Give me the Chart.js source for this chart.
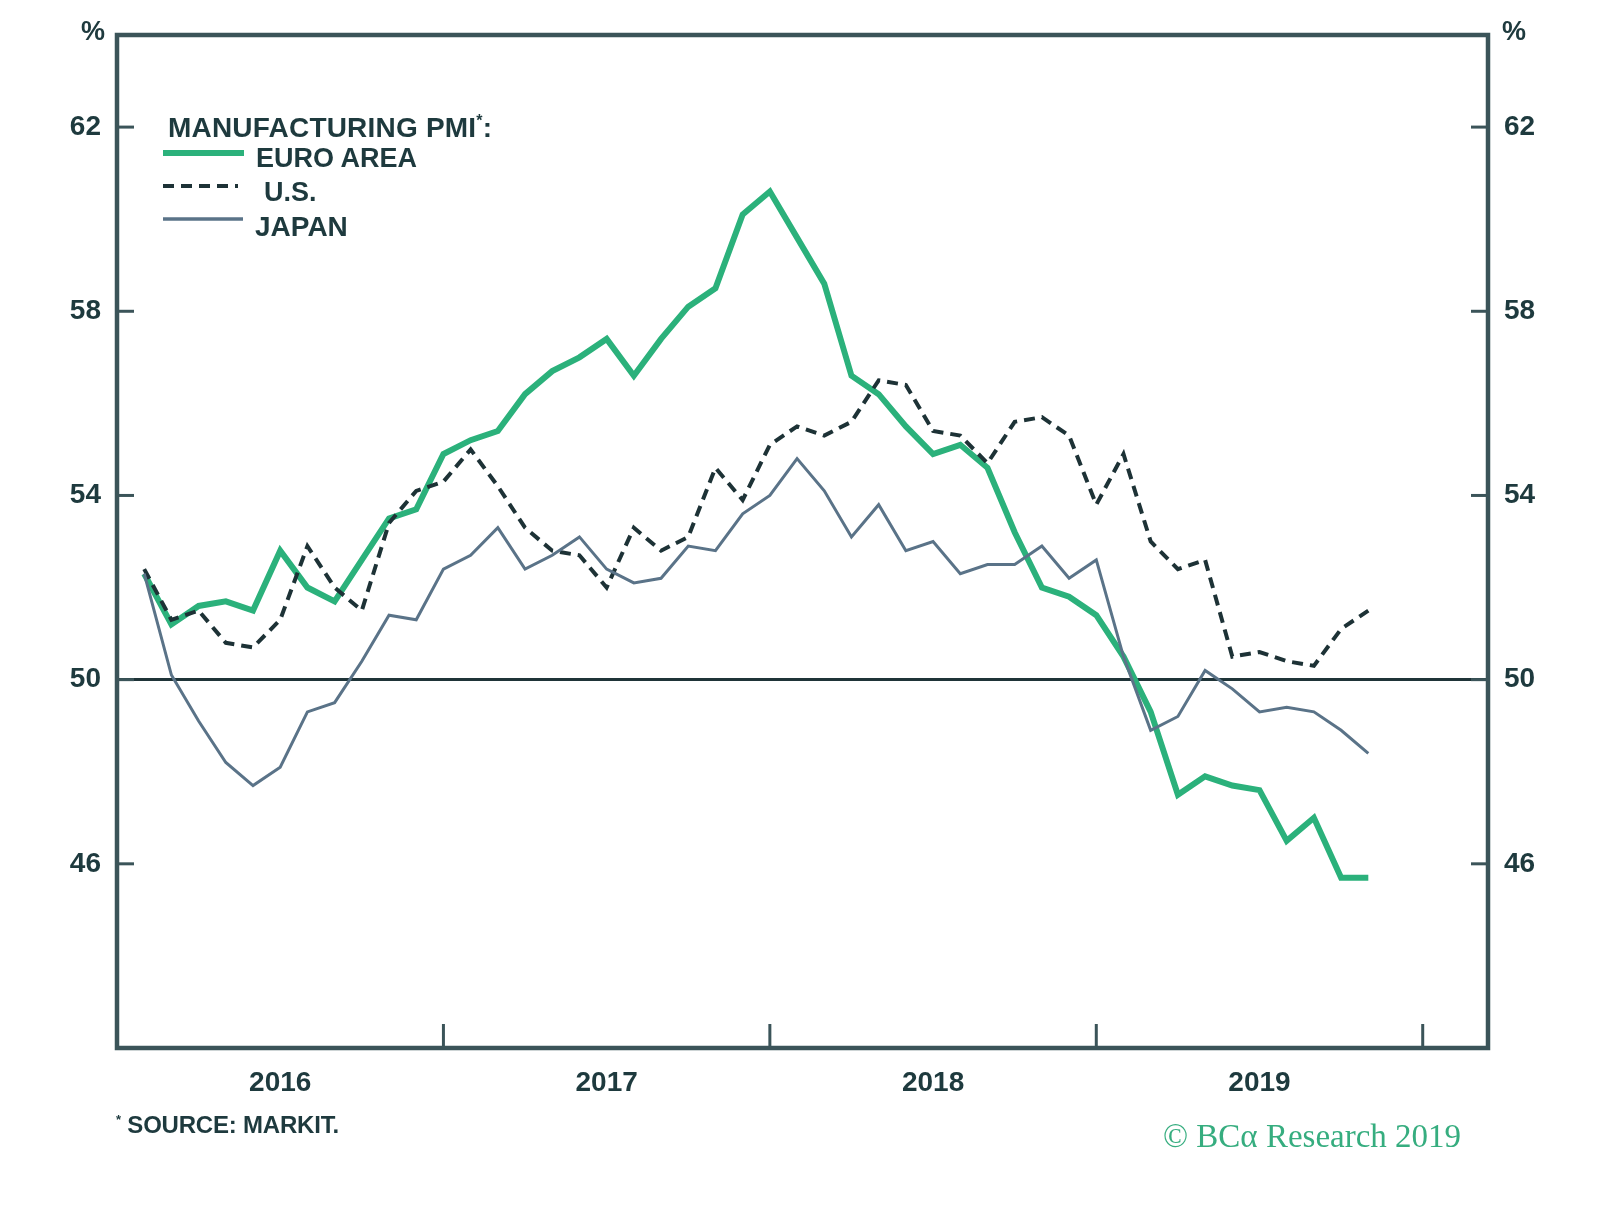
<!DOCTYPE html>
<html>
<head>
<meta charset="utf-8">
<script src="https://cdn.jsdelivr.net/npm/chart.js@4.4.1/dist/chart.umd.min.js"></script>
<style>
  html, body { margin: 0; padding: 0; background: #ffffff; }
  #wrap { position: relative; width: 1600px; height: 1208px; overflow: hidden; background: #fff; }
  #c { position: absolute; left: 0; top: 0; }
  .t { position: absolute; font-family: "Liberation Sans", Arial, sans-serif; font-weight: bold; color: #1e3a3e; white-space: nowrap; line-height: 1; }
  .leg { font-size: 27px; }
  .copy { position: absolute; font-family: "Liberation Serif", "DejaVu Serif", serif; color: #36ad7f; font-size: 33px; white-space: nowrap; line-height: 1; }
  svg.ls { position: absolute; overflow: visible; }
</style>
</head>
<body>
<div id="wrap">
  <canvas id="c" width="1600" height="1208"></canvas>
  <div class="t" style="left:81px; top:18px; font-size:27px; letter-spacing:-1px;">%</div>
  <div class="t" style="left:1502px; top:18px; font-size:27px; letter-spacing:-1px;">%</div>

  <div class="t leg" style="left:168px; top:113px; font-size:28px; letter-spacing:0.2px;">MANUFACTURING PMI<sup style="font-size:16px; vertical-align: 11px;">*</sup>:</div>
  <div class="t leg" style="left:256px; top:145px;">EURO AREA</div>
  <div class="t leg" style="left:264px; top:179px;">U.S.</div>
  <div class="t leg" style="left:255px; top:213px; font-size:28px;">JAPAN</div>

  <svg class="ls" style="left:0; top:0;" width="1" height="1">
    <line x1="163" y1="153" x2="244" y2="153" stroke="#2bb17b" stroke-width="6"/>
    <line x1="163" y1="186" x2="238" y2="186" stroke="#1d3236" stroke-width="4" stroke-dasharray="11 7"/>
    <line x1="163" y1="219" x2="243" y2="219" stroke="#5a7388" stroke-width="3.5"/>
  </svg>

  <div class="t" style="left:116px; top:1113px; font-size:24px; letter-spacing:-0.2px;"><sup style="font-size:13px; vertical-align: 9px;">*</sup> SOURCE: MARKIT.</div>
  <div class="copy" style="left:1163px; top:1120px;">© BCα Research 2019</div>
</div>
<script>
// ---- data ----
const months = [
  '2016-01','2016-02','2016-03','2016-04','2016-05','2016-06','2016-07','2016-08','2016-09','2016-10','2016-11','2016-12',
  '2017-01','2017-02','2017-03','2017-04','2017-05','2017-06','2017-07','2017-08','2017-09','2017-10','2017-11','2017-12',
  '2018-01','2018-02','2018-03','2018-04','2018-05','2018-06','2018-07','2018-08','2018-09','2018-10','2018-11','2018-12',
  '2019-01','2019-02','2019-03','2019-04','2019-05','2019-06','2019-07','2019-08','2019-09','2019-10'
];
const euroArea = [
  52.3,51.2,51.6,51.7,51.5,52.8,52.0,51.7,52.6,53.5,53.7,54.9,
  55.2,55.4,56.2,56.7,57.0,57.4,56.6,57.4,58.1,58.5,60.1,60.6,
  59.6,58.6,56.6,56.2,55.5,54.9,55.1,54.6,53.2,52.0,51.8,51.4,
  50.5,49.3,47.5,47.9,47.7,47.6,46.5,47.0,45.7,45.7
];
const us = [
  52.4,51.3,51.5,50.8,50.7,51.3,52.9,52.0,51.5,53.4,54.1,54.3,
  55.0,54.2,53.3,52.8,52.7,52.0,53.3,52.8,53.1,54.6,53.9,55.1,
  55.5,55.3,55.6,56.5,56.4,55.4,55.3,54.7,55.6,55.7,55.3,53.8,
  54.9,53.0,52.4,52.6,50.5,50.6,50.4,50.3,51.1,51.5
];
const japan = [
  52.3,50.1,49.1,48.2,47.7,48.1,49.3,49.5,50.4,51.4,51.3,52.4,
  52.7,53.3,52.4,52.7,53.1,52.4,52.1,52.2,52.9,52.8,53.6,54.0,
  54.8,54.1,53.1,53.8,52.8,53.0,52.3,52.5,52.5,52.9,52.2,52.6,
  50.5,48.9,49.2,50.2,49.8,49.3,49.4,49.3,48.9,48.4
];
const yearLabels = ['2016','2017','2018','2019'];
const yTicks = [46, 50, 54, 58, 62];
const yMin = 42, yMax = 64;
const baseYear = 2016;
const xMaxMonths = 50.4;   // axis ends ~mid-March 2020

// months since Jan 1 of baseYear, plotted at month end
function monthPos(s) {
  const [y, m] = s.split('-').map(Number);
  return (y - baseYear) * 12 + m;
}
function series(vals) { return vals.map((v, i) => ({ x: monthPos(months[i]), y: v })); }
const yearMid = yearLabels.map(y => (Number(y) - baseYear) * 12 + 6);
const yearBounds = yearLabels.map(y => (Number(y) - baseYear + 1) * 12);

const INK = '#1e3a3e';
const FRAME = '#3b5459';
const tickFont = { family: '"Liberation Sans", Arial, sans-serif', size: 28, weight: 'bold' };

const framePlugin = {
  id: 'frame',
  afterDraw(chart) {
    const { ctx, chartArea: a, scales } = chart;
    ctx.save();
    ctx.strokeStyle = FRAME;
    ctx.lineWidth = 3;
    yTicks.forEach(v => {
      const py = scales.y.getPixelForValue(v);
      ctx.beginPath(); ctx.moveTo(a.left, py); ctx.lineTo(a.left + 17, py); ctx.stroke();
      const pr = scales.y2.getPixelForValue(v);
      ctx.beginPath(); ctx.moveTo(a.right, pr); ctx.lineTo(a.right - 17, pr); ctx.stroke();
    });
    yearBounds.forEach(v => {
      const px = scales.x.getPixelForValue(v);
      ctx.beginPath(); ctx.moveTo(px, a.bottom); ctx.lineTo(px, a.bottom - 24); ctx.stroke();
    });
    ctx.lineWidth = 4.5;
    ctx.strokeRect(a.left, a.top, a.right - a.left, a.bottom - a.top);
    ctx.restore();
  }
};

new Chart(document.getElementById('c'), {
  type: 'line',
  data: {
    datasets: [
      { label: 'JAPAN', data: series(japan), borderColor: '#5a7388', borderWidth: 3, pointRadius: 0, tension: 0, yAxisID: 'y' },
      { label: 'U.S.', data: series(us), borderColor: '#1d3236', borderWidth: 4, borderDash: [11, 7], pointRadius: 0, tension: 0, yAxisID: 'y' },
      { label: 'EURO AREA', data: series(euroArea), borderColor: '#2bb17b', borderWidth: 6, pointRadius: 0, tension: 0, yAxisID: 'y' }
    ]
  },
  options: {
    responsive: false,
    animation: false,
    devicePixelRatio: 1,
    layout: { padding: { top: 35, left: 0, right: 0, bottom: 0 } },
    plugins: { legend: { display: false }, tooltip: { enabled: false } },
    scales: {
      x: {
        type: 'linear', min: 0, max: xMaxMonths,
        afterBuildTicks: s => { s.ticks = yearMid.map(v => ({ value: v })); },
        afterFit: s => { s.height = 160; },
        ticks: { autoSkip: false, maxRotation: 0, padding: 18, color: INK, font: tickFont,
                 callback: (v, i) => yearLabels[i] },
        grid: { display: false, drawTicks: false },
        border: { display: false }
      },
      y: {
        position: 'left', min: yMin, max: yMax,
        afterBuildTicks: s => { s.ticks = yTicks.map(v => ({ value: v })); },
        afterFit: s => { s.width = 117; },
        ticks: { padding: 16, color: INK, font: tickFont },
        grid: { drawTicks: false, lineWidth: 3,
                color: c => (c.tick && c.tick.value === 50) ? '#1f3438' : 'rgba(0,0,0,0)' },
        border: { display: false }
      },
      y2: {
        position: 'right', min: yMin, max: yMax,
        afterBuildTicks: s => { s.ticks = yTicks.map(v => ({ value: v })); },
        afterFit: s => { s.width = 112; },
        ticks: { padding: 16, color: INK, font: tickFont },
        grid: { display: false, drawTicks: false },
        border: { display: false }
      }
    }
  },
  plugins: [framePlugin]
});
</script>
</body>
</html>
